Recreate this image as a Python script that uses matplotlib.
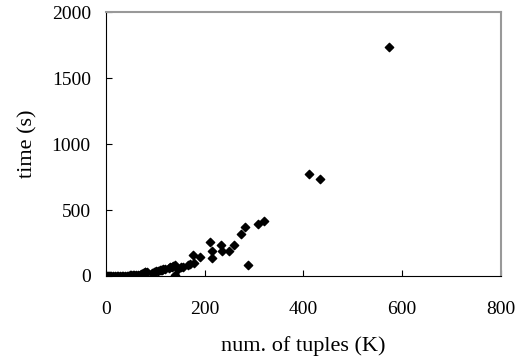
import matplotlib
matplotlib.use("Agg")
import matplotlib.pyplot as plt

tuplas = [1, 3, 6, 8, 11, 14, 18, 22, 25, 28, 32, 35, 38, 42, 45, 49, 51, 55, 57, 59, 60,
          65, 68, 70, 72, 75, 78, 79, 82, 94, 97, 99, 101, 105, 109, 111, 113, 116, 120,
          127, 130, 134, 136, 140, 140, 145, 151, 155, 167, 170, 176, 178, 191,
          210, 215, 215, 232, 234, 250, 259, 273, 281, 287, 307, 320,
          412, 434, 574]
tiempo = [0, 0, 2, 0, 0, 0, 1, 0, 0, 2, 0, 1, 3, 0, 2, 5, 5, 4, 5, 0, 8,
          5, 10, 13, 15, 20, 30, 30, 28, 25, 30, 33, 40, 38, 45, 45, 48, 50, 52,
          60, 66, 71, 75, 81, 5, 55, 66, 70, 81, 91, 157, 96, 146,
          255, 192, 136, 232, 192, 192, 232, 318, 374, 81, 394, 414,
          770, 735, 1735]

plt.rcParams['font.family'] = ['Liberation Serif', 'DejaVu Serif']

fig = plt.figure(figsize=(5.25, 3.57), dpi=100)
ax = fig.add_axes([0.202, 0.227, 0.752, 0.739])
ax.scatter(tuplas, tiempo, marker='D', s=18, color='black', zorder=3)

ax.set_xlim(0, 800)
ax.set_ylim(0, 2000)
ax.set_xticks([0, 200, 400, 600, 800])
ax.set_yticks([0, 500, 1000, 1500, 2000])
ax.tick_params(direction='in', length=4, labelsize=14)
ax.tick_params(axis='x', pad=18)
ax.tick_params(axis='y', pad=11)
ax.set_xlabel("num. of tuples (K)", fontsize=16, labelpad=13)
ax.set_ylabel("time (s)", fontsize=16, labelpad=10)

#bordes de arriba y derecha en gris
ax.spines['top'].set_color('#999999')
ax.spines['right'].set_color('#999999')
ax.spines['top'].set_linewidth(1.5)
ax.spines['right'].set_linewidth(1.5)

fig.savefig("out.png", dpi=100)
